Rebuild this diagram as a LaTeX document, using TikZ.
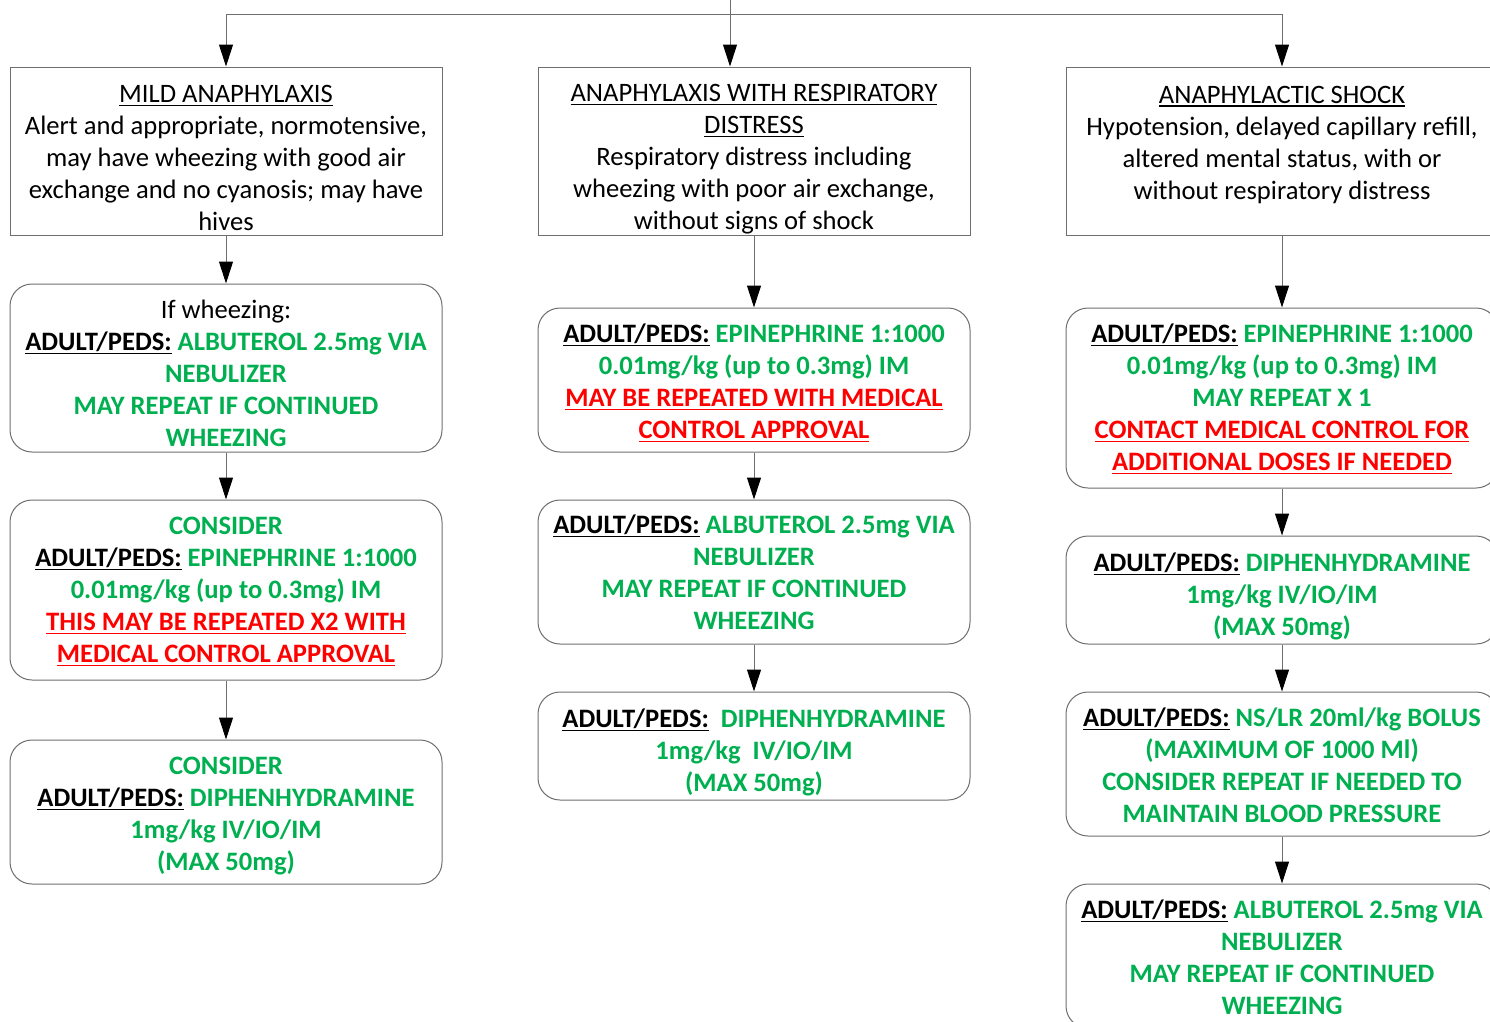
\documentclass[tikz,border=0pt]{standalone}
\usepackage{fontspec}
\setmainfont{Carlito}
\usetikzlibrary{arrows.meta}
\definecolor{medgreen}{RGB}{0,176,80}
\definecolor{alertred}{RGB}{255,0,0}
\definecolor{boxline}{RGB}{110,110,110}
\newcommand{\uln}[1]{\setbox0\hbox{#1}\rlap{\rule[-3.5pt]{\wd0}{1.6pt}}\box0}
\newcommand{\adped}{{\color{black}\uln{ADULT/PEDS:}}}
\newcommand{\warn}[1]{{\color{alertred}\uln{#1}}}
\newcommand{\lift}[1]{\rule{0pt}{#1pt}}

\begin{document}
\begin{tikzpicture}[x=1pt,y=-1pt,
    every node/.style={font=\fontsize{26.6}{32}\selectfont},
    sink/.style={execute at end node={\rule[-#1]{0pt}{1pt}}},
    rectbox/.style={draw=boxline, line width=1pt, minimum width=432pt, minimum height=168pt, inner xsep=2pt, inner ysep=-20pt, align=center, sink=9.6pt},
    roundbox/.style={draw=boxline, line width=1pt, rounded corners=22pt, minimum width=432pt, inner xsep=2pt, inner ysep=-20pt, align=center, text=medgreen, font=\fontsize{26.6}{32}\selectfont\bfseries, sink=9.6pt},
    flowline/.style={draw=boxline, line width=1pt, ->, >={Triangle[width=14pt,length=22pt,color=black]}}]
        \useasboundingbox (0,0) rectangle (1490,1021);
        % presentations
        \node[rectbox] (mild) at (226,151) {\lift{41.1}\uln{MILD ANAPHYLAXIS}\\Alert and appropriate, normotensive,\\may have wheezing with good air\\exchange and no cyanosis; may have\\hives};
        \node[rectbox] (resp) at (754,151) {\lift{39.1}\uln{ANAPHYLAXIS WITH RESPIRATORY}\\\uln{DISTRESS}\\Respiratory distress including\\wheezing with poor air exchange,\\without signs of shock};
        \node[rectbox, sink=24.2pt] (shock) at (1282,151) {\lift{24.4}\uln{ANAPHYLACTIC SHOCK}\\Hypotension, delayed capillary refill,\\altered mental status, with or\\without respiratory distress};
        % mild anaphylaxis
        \node[roundbox, minimum height=168pt] (mildalb) at (226,368) {\lift{38.9}{\mdseries\color{black}If wheezing:}\\\adped{} ALBUTEROL 2.5mg VIA\\NEBULIZER\\MAY REPEAT IF CONTINUED\\WHEEZING};
        \node[roundbox, minimum height=180pt] (mildepi) at (226,590) {\lift{27.1}CONSIDER\\\adped{} EPINEPHRINE 1:1000\\0.01mg/kg (up to 0.3mg) IM\\\warn{THIS MAY BE REPEATED X2 WITH}\\\warn{MEDICAL CONTROL APPROVAL}};
        \node[roundbox, minimum height=144pt] (milddiph) at (226,812) {\lift{31.1}CONSIDER\\\adped{} DIPHENHYDRAMINE\\1mg/kg IV/IO/IM\\(MAX 50mg)};
        % respiratory distress
        \node[roundbox, minimum height=144pt] (respepi) at (754,380) {\lift{31.2}\adped{} EPINEPHRINE 1:1000\\0.01mg/kg (up to 0.3mg) IM\\\warn{MAY BE REPEATED WITH MEDICAL}\\\warn{CONTROL APPROVAL}};
        \node[roundbox, minimum height=144pt] (respalb) at (754,572) {\lift{29.2}\adped{} ALBUTEROL 2.5mg VIA\\NEBULIZER\\MAY REPEAT IF CONTINUED\\WHEEZING};
        \node[roundbox, minimum height=108pt] (respdiph) at (754,746) {\lift{37.2}\adped{}~ DIPHENHYDRAMINE\\1mg/kg~ IV/IO/IM\\(MAX 50mg)};
        % shock
        \node[roundbox, minimum height=180pt] (shockepi) at (1282,398) {\lift{27.2}\adped{} EPINEPHRINE 1:1000\\0.01mg/kg (up to 0.3mg) IM\\MAY REPEAT X 1\\\warn{CONTACT MEDICAL CONTROL FOR}\\\warn{ADDITIONAL DOSES IF NEEDED}};
        \node[roundbox, minimum height=108pt] (shockdiph) at (1282,590) {\lift{37.2}\adped{} DIPHENHYDRAMINE\\1mg/kg IV/IO/IM\\(MAX 50mg)};
        \node[roundbox, minimum height=144pt] (shockfluid) at (1282,764) {\lift{31.2}\adped{} NS/LR 20ml/kg BOLUS\\(MAXIMUM OF 1000 Ml)\\CONSIDER REPEAT IF NEEDED TO\\MAINTAIN BLOOD PRESSURE};
        \node[roundbox, minimum height=144pt] (shockalb) at (1282,956) {\lift{31.2}\adped{} ALBUTEROL 2.5mg VIA\\NEBULIZER\\MAY REPEAT IF CONTINUED\\WHEEZING};
        % connectors
        \coordinate (feed) at (730,-4);
        \coordinate (bus) at (730,14);
        \draw[flowline] (feed) -- (feed |- resp.north);
        \draw[draw=boxline, line width=1pt] (mild.north |- bus) -- (shock.north |- bus);
        \draw[flowline] (mild.north |- bus) -- (mild.north);
        \draw[flowline] (shock.north |- bus) -- (shock.north);
        \foreach \a/\b in {mild/mildalb, mildalb/mildepi, mildepi/milddiph, resp/respepi, respepi/respalb, respalb/respdiph, shock/shockepi, shockepi/shockdiph, shockdiph/shockfluid, shockfluid/shockalb}
            \draw[flowline] (\a) -- (\b);
    \end{tikzpicture}
\end{document}
